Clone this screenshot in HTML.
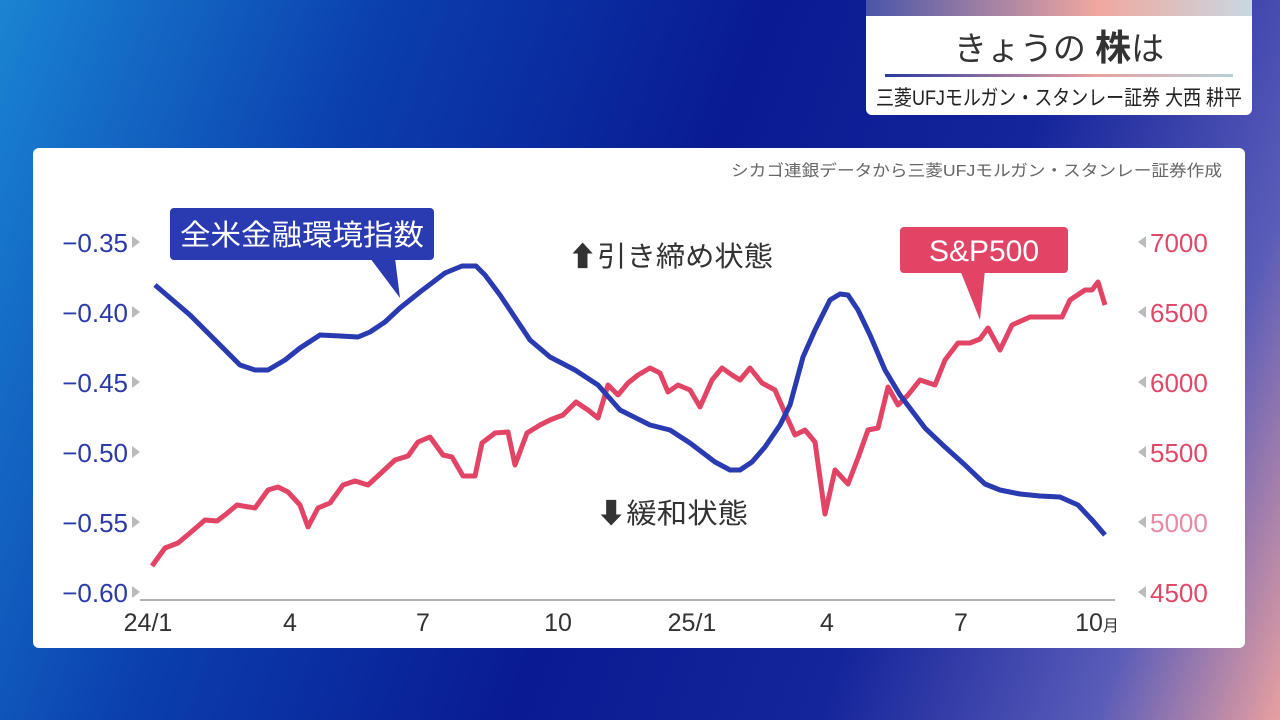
<!DOCTYPE html><html><head><meta charset="utf-8"><style>
body{margin:0;width:1280px;height:720px;overflow:hidden;font-family:"Liberation Sans","Noto Sans CJK JP",sans-serif;
background:linear-gradient(110deg,#1a84d2 0%,#0b3fae 25%,#0a1a92 50%,#14249a 70%,#5a5cb8 88%,#e8a0a0 100%);}
</style></head><body>
<svg width="1280" height="720" style="position:absolute;left:0;top:0">
<defs>
<linearGradient id="tg" x1="0" x2="1"><stop offset="0" stop-color="#4a55a8"/><stop offset="0.6" stop-color="#f0a8a0"/><stop offset="1" stop-color="#c8d8e0"/></linearGradient>
<linearGradient id="ul" x1="0" x2="1"><stop offset="0" stop-color="#2a3aa0"/><stop offset="0.6" stop-color="#e8a0a0"/><stop offset="1" stop-color="#b8d0d8"/></linearGradient>
</defs>
<rect x="866" y="-8" width="386" height="123" rx="6" fill="#fff"/>
<rect x="866" y="0" width="386" height="16" fill="url(#tg)"/>
<text x="1059" y="60" text-anchor="middle" font-size="33" fill="#333">きょうの <tspan font-weight="bold" font-size="36">株</tspan>は</text>
<rect x="885" y="74" width="348" height="3" fill="url(#ul)"/>
<text x="876" y="105" font-size="21" fill="#222" textLength="366" lengthAdjust="spacingAndGlyphs">三菱UFJモルガン・スタンレー証券 大西 耕平</text>
<rect x="33" y="148" width="1212" height="500" rx="6" fill="#fff"/>
<text x="731" y="176" font-size="16" fill="#666" textLength="491" lengthAdjust="spacingAndGlyphs">シカゴ連銀データから三菱UFJモルガン・スタンレー証券作成</text>
<g font-size="26" fill="#2a3aa8">
<text x="128" y="252" text-anchor="end">−0.35</text><text x="128" y="322" text-anchor="end">−0.40</text><text x="128" y="392" text-anchor="end">−0.45</text><text x="128" y="462" text-anchor="end">−0.50</text><text x="128" y="532" text-anchor="end">−0.55</text><text x="128" y="602" text-anchor="end">−0.60</text></g>
<g fill="#bbb"><path d="M132,236l8,6l-8,6z M132,306l8,6l-8,6z M132,376l8,6l-8,6z M132,446l8,6l-8,6z M132,516l8,6l-8,6z M132,586l8,6l-8,6z"/>
<path d="M1146,236l-8,6l8,6z M1146,306l-8,6l8,6z M1146,376l-8,6l8,6z M1146,446l-8,6l8,6z M1146,516l-8,6l8,6z M1146,586l-8,6l8,6z"/></g>
<g font-size="26" fill="#e04868">
<text x="1150" y="252">7000</text><text x="1150" y="322">6500</text><text x="1150" y="392">6000</text><text x="1150" y="462">5500</text><text x="1150" y="532" fill="#e88aa0">5000</text><text x="1150" y="602">4500</text></g>
<line x1="140" y1="600" x2="1115" y2="600" stroke="#999" stroke-width="1.5"/>
<g font-size="25" fill="#333" text-anchor="middle">
<text x="148" y="631">24/1</text><text x="290" y="631">4</text><text x="423" y="631">7</text><text x="558" y="631">10</text><text x="692" y="631">25/1</text><text x="827" y="631">4</text><text x="961" y="631">7</text><text x="1097" y="631">10<tspan font-size="16">月</tspan></text></g>
<polyline fill="none" stroke="#e24466" stroke-width="5" stroke-linejoin="round" points="152,566 165,548 178,543 190,533 205,520 217,521 225,515 237,505 255,508 268,490 278,487 288,492 300,505 308,527 318,508 330,503 343,485 355,481 368,485 380,474 395,460 408,456 418,442 430,437 443,455 452,457 463,476 475,476 482,443 495,433 508,432 515,465 527,433 540,425 550,420 563,415 576,402 588,410 598,418 608,385 618,395 628,383 638,375 650,368 660,373 668,392 678,385 690,390 700,407 712,380 722,368 732,375 740,380 750,368 762,383 775,390 785,413 795,435 805,430 815,442 825,514 835,470 848,484 858,458 868,430 878,428 888,387 898,405 908,395 920,380 935,385 945,360 958,343 970,343 980,339 988,328 1000,350 1012,325 1030,317 1048,317 1062,317 1070,300 1085,290 1092,290 1098,282 1105,305"/>
<polyline fill="none" stroke="#2a3ab0" stroke-width="5" stroke-linejoin="round" points="155,285 190,315 225,350 240,365 255,370 268,370 285,360 300,348 320,335 340,336 358,337 370,332 385,322 400,308 420,292 445,273 462,266 476,266 485,275 500,295 530,340 550,357 575,370 598,385 620,410 650,425 670,430 690,443 715,462 730,470 740,470 752,462 765,447 780,425 790,405 803,357 815,330 830,300 840,294 848,295 858,310 870,335 885,370 900,395 925,428 945,447 965,465 985,484 1000,490 1020,494 1040,496 1060,497 1078,505 1093,521 1105,535"/>
<rect x="170" y="208" width="264" height="52" rx="4" fill="#2a3ab0"/>
<path d="M370,258 L400,298 L395,258z" fill="#2a3ab0"/>
<text x="302" y="245" text-anchor="middle" font-size="29" fill="#fff" textLength="244" lengthAdjust="spacingAndGlyphs">全米金融環境指数</text>
<rect x="900" y="227" width="168" height="46" rx="4" fill="#e24466"/>
<path d="M960,270 L980,320 L985,270z" fill="#e24466"/>
<text x="984" y="261" text-anchor="middle" font-size="30" fill="#fff">S&amp;P500</text>
<text x="568" y="266" font-size="28" fill="#333" textLength="205" lengthAdjust="spacingAndGlyphs">⬆引き締め状態</text>
<text x="596" y="523" font-size="28" fill="#333" textLength="152" lengthAdjust="spacingAndGlyphs">⬇緩和状態</text>
</svg>
</body></html>
